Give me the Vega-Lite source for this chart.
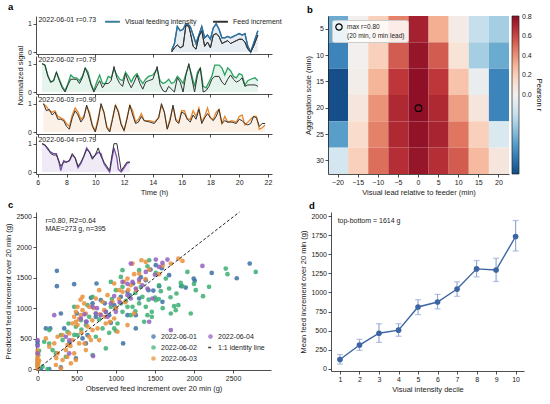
{
  "$schema": "https://vega.github.io/schema/vega-lite/v6.json",
  "background": "white",
  "padding": {"left": 4, "top": 1, "right": 1, "bottom": 1},
  "datasets": {
    "ts": [
      {"d":1,"t":15.3,"v":0.05,"f":0},{"d":1,"t":15.5,"v":0.3,"f":0.15},{"d":1,"t":15.7,"v":0.9,"f":0.25},{"d":1,"t":15.9,"v":0.75,"f":0.15},{"d":1,"t":16.1,"v":0.8,"f":0.2},{"d":1,"t":16.3,"v":1,"f":0.95},{"d":1,"t":16.5,"v":0.95,"f":0.9},{"d":1,"t":16.6,"v":0.9,"f":0.7},{"d":1,"t":16.8,"v":0.6,"f":0.2},{"d":1,"t":17.0,"v":0.3,"f":0.1},{"d":1,"t":17.2,"v":0.6,"f":0.55},{"d":1,"t":17.4,"v":0.9,"f":0.75},{"d":1,"t":17.6,"v":0.5,"f":0.2},{"d":1,"t":17.8,"v":0.6,"f":0.35},{"d":1,"t":18.0,"v":0.45,"f":0.15},{"d":1,"t":18.2,"v":0.85,"f":0.6},{"d":1,"t":18.4,"v":1,"f":0.65},{"d":1,"t":18.6,"v":0.8,"f":0.55},{"d":1,"t":18.8,"v":0.5,"f":0.3},{"d":1,"t":19.0,"v":0.5,"f":0.35},{"d":1,"t":19.2,"v":0.55,"f":0.4},{"d":1,"t":19.4,"v":0.5,"f":0.3},{"d":1,"t":19.6,"v":0.55,"f":0.35},{"d":1,"t":19.8,"v":0.6,"f":0.4},{"d":1,"t":20.0,"v":0.65,"f":0.45},{"d":1,"t":20.2,"v":0.6,"f":0.45},{"d":1,"t":20.4,"v":0.65,"f":0.35},{"d":1,"t":20.6,"v":0.2,"f":0.1},{"d":1,"t":20.8,"v":0,"f":0},{"d":1,"t":21.0,"v":0.3,"f":0.2},{"d":1,"t":21.3,"v":0.75,"f":0.6},
      {"d":2,"t":6.3,"v":1,"f":1},{"d":2,"t":6.5,"v":0.95,"f":0.95},{"d":2,"t":6.7,"v":0.6,"f":0.55},{"d":2,"t":6.9,"v":0.35,"f":0.35},{"d":2,"t":7.1,"v":0.4,"f":0.4},{"d":2,"t":7.3,"v":0.7,"f":0.7},{"d":2,"t":7.5,"v":0.45,"f":0.4},{"d":2,"t":7.7,"v":0.2,"f":0.15},{"d":2,"t":7.9,"v":0.05,"f":0},{"d":2,"t":8.1,"v":0.3,"f":0.25},{"d":2,"t":8.3,"v":0.6,"f":0.45},{"d":2,"t":8.5,"v":0.5,"f":0.45},{"d":2,"t":8.7,"v":0.5,"f":0.45},{"d":2,"t":8.9,"v":0.4,"f":0.3},{"d":2,"t":9.1,"v":0.55,"f":0.5},{"d":2,"t":9.3,"v":0.85,"f":0.85},{"d":2,"t":9.5,"v":0.7,"f":0.6},{"d":2,"t":9.7,"v":0.3,"f":0.25},{"d":2,"t":9.9,"v":0.05,"f":0},{"d":2,"t":10.1,"v":0.35,"f":0.2},{"d":2,"t":10.3,"v":0.6,"f":0.4},{"d":2,"t":10.5,"v":0.3,"f":0.15},{"d":2,"t":10.7,"v":0.3,"f":0.3},{"d":2,"t":10.9,"v":0.55,"f":0.3},{"d":2,"t":11.1,"v":0.5,"f":0.4},{"d":2,"t":11.3,"v":0.8,"f":0.9},{"d":2,"t":11.5,"v":0.6,"f":0.5},{"d":2,"t":11.7,"v":0.45,"f":0.3},{"d":2,"t":11.9,"v":0.4,"f":0.2},{"d":2,"t":12.1,"v":0.7,"f":0.65},{"d":2,"t":12.3,"v":0.55,"f":0.35},{"d":2,"t":12.5,"v":0.35,"f":0.15},{"d":2,"t":12.7,"v":0.55,"f":0.35},{"d":2,"t":12.9,"v":0.65,"f":0.6},{"d":2,"t":13.1,"v":0.45,"f":0.3},{"d":2,"t":13.3,"v":0.3,"f":0.1},{"d":2,"t":13.5,"v":0.45,"f":0.35},{"d":2,"t":13.7,"v":0.55,"f":0.4},{"d":2,"t":14.0,"v":0.6,"f":0.45},{"d":2,"t":14.3,"v":0.8,"f":0.9},{"d":2,"t":14.5,"v":0.4,"f":0.25},{"d":2,"t":14.7,"v":0.3,"f":0.05},{"d":2,"t":14.9,"v":0.35,"f":0},{"d":2,"t":15.1,"v":0.45,"f":0.2},{"d":2,"t":15.3,"v":0.3,"f":0.1},{"d":2,"t":15.5,"v":0.35,"f":0},{"d":2,"t":15.7,"v":0.55,"f":0.5},{"d":2,"t":15.9,"v":0.45,"f":0.35},{"d":2,"t":16.1,"v":0.3,"f":0},{"d":2,"t":16.3,"v":0.65,"f":0.6},{"d":2,"t":16.5,"v":0.95,"f":1},{"d":2,"t":16.7,"v":0.6,"f":0.5},{"d":2,"t":16.9,"v":0.2,"f":0},{"d":2,"t":17.1,"v":0.7,"f":0.6},{"d":2,"t":17.3,"v":0.85,"f":0.85},{"d":2,"t":17.5,"v":0.2,"f":0},{"d":2,"t":17.7,"v":0.15,"f":0.05},{"d":2,"t":17.9,"v":0.35,"f":0.2},{"d":2,"t":18.1,"v":0.55,"f":0.45},{"d":2,"t":18.3,"v":0.95,"f":0.55},{"d":2,"t":18.6,"v":0.95,"f":0.55},{"d":2,"t":18.8,"v":0.85,"f":0.35},{"d":2,"t":19.0,"v":0.6,"f":0.25},{"d":2,"t":19.2,"v":0.85,"f":0.45},{"d":2,"t":19.4,"v":0.75,"f":0.6},{"d":2,"t":19.6,"v":0.55,"f":0.45},{"d":2,"t":19.8,"v":0.5,"f":0.35},{"d":2,"t":20.0,"v":0.65,"f":0.4},{"d":2,"t":20.2,"v":0.6,"f":0.5},{"d":2,"t":20.4,"v":0.25,"f":0.2},{"d":2,"t":20.6,"v":0.4,"f":0.25},{"d":2,"t":20.8,"v":0.45,"f":0.25},{"d":2,"t":21.1,"v":0.5,"f":0.25},{"d":2,"t":21.3,"v":0.4,"f":0.2},
      {"d":3,"t":6.4,"v":1,"f":1},{"d":3,"t":6.6,"v":0.9,"f":0.75},{"d":3,"t":6.8,"v":0.75,"f":0.8},{"d":3,"t":7.0,"v":0.7,"f":0.6},{"d":3,"t":7.2,"v":0.75,"f":0.7},{"d":3,"t":7.4,"v":0.55,"f":0.45},{"d":3,"t":7.6,"v":0.5,"f":0.45},{"d":3,"t":7.8,"v":0.45,"f":0.4},{"d":3,"t":8.0,"v":0.3,"f":0.2},{"d":3,"t":8.2,"v":0.2,"f":0.1},{"d":3,"t":8.4,"v":0.6,"f":0.5},{"d":3,"t":8.6,"v":0.85,"f":0.75},{"d":3,"t":8.8,"v":0.7,"f":0.6},{"d":3,"t":9.0,"v":0.45,"f":0.35},{"d":3,"t":9.2,"v":0.55,"f":0.5},{"d":3,"t":9.4,"v":0.9,"f":0.95},{"d":3,"t":9.6,"v":0.7,"f":0.6},{"d":3,"t":9.8,"v":0.25,"f":0.2},{"d":3,"t":10.0,"v":0.05,"f":0},{"d":3,"t":10.2,"v":0.5,"f":0.4},{"d":3,"t":10.4,"v":0.95,"f":1},{"d":3,"t":10.6,"v":0.7,"f":0.7},{"d":3,"t":10.8,"v":0.2,"f":0.15},{"d":3,"t":11.0,"v":0.05,"f":0},{"d":3,"t":11.2,"v":0.5,"f":0.45},{"d":3,"t":11.4,"v":0.95,"f":0.95},{"d":3,"t":11.6,"v":0.75,"f":0.7},{"d":3,"t":11.8,"v":0.3,"f":0.25},{"d":3,"t":12.0,"v":0.05,"f":0.05},{"d":3,"t":12.2,"v":0.5,"f":0.45},{"d":3,"t":12.4,"v":0.95,"f":0.95},{"d":3,"t":12.6,"v":0.75,"f":0.6},{"d":3,"t":12.8,"v":0.35,"f":0.3},{"d":3,"t":13.0,"v":0.45,"f":0.35},{"d":3,"t":13.2,"v":0.65,"f":0.55},{"d":3,"t":13.4,"v":0.4,"f":0.4},{"d":3,"t":13.8,"v":0.4,"f":0.35},{"d":3,"t":14.1,"v":0.35,"f":0.3},{"d":3,"t":14.4,"v":0.5,"f":0.5},{"d":3,"t":14.6,"v":0.95,"f":1},{"d":3,"t":14.8,"v":0.7,"f":0.7},{"d":3,"t":15.0,"v":0.1,"f":0.1},{"d":3,"t":15.2,"v":0.5,"f":0.4},{"d":3,"t":15.4,"v":0.9,"f":0.95},{"d":3,"t":15.6,"v":0.45,"f":0.4},{"d":3,"t":15.8,"v":0.35,"f":0.3},{"d":3,"t":16.0,"v":0.75,"f":0.7},{"d":3,"t":16.2,"v":0.75,"f":0.65},{"d":3,"t":16.4,"v":0.45,"f":0.45},{"d":3,"t":16.6,"v":0.45,"f":0.35},{"d":3,"t":16.8,"v":0.75,"f":0.6},{"d":3,"t":17.0,"v":0.55,"f":0.45},{"d":3,"t":17.2,"v":0.85,"f":0.8},{"d":3,"t":17.4,"v":0.35,"f":0.3},{"d":3,"t":17.6,"v":0.55,"f":0.5},{"d":3,"t":17.8,"v":0.85,"f":0.65},{"d":3,"t":18.0,"v":0.5,"f":0.5},{"d":3,"t":18.2,"v":0.45,"f":0.4},{"d":3,"t":18.4,"v":0.7,"f":0.55},{"d":3,"t":18.6,"v":0.8,"f":0.8},{"d":3,"t":18.8,"v":0.3,"f":0.3},{"d":3,"t":19.0,"v":0.55,"f":0.4},{"d":3,"t":19.2,"v":0.35,"f":0.35},{"d":3,"t":19.5,"v":0.4,"f":0.35},{"d":3,"t":19.8,"v":0.35,"f":0.3},{"d":3,"t":20.0,"v":0.55,"f":0.45},{"d":3,"t":20.2,"v":0.6,"f":0.4},{"d":3,"t":20.4,"v":0.25,"f":0.3},{"d":3,"t":20.6,"v":0.35,"f":0.25},{"d":3,"t":20.8,"v":0.45,"f":0.3},{"d":3,"t":21.0,"v":0.55,"f":0.55},{"d":3,"t":21.2,"v":0.55,"f":0.5},{"d":3,"t":21.4,"v":0.1,"f":0.2},{"d":3,"t":21.6,"v":0.15,"f":0.3},{"d":3,"t":21.8,"v":0.25,"f":0.3},
      {"d":4,"t":6.3,"v":1,"f":1},{"d":4,"t":6.5,"v":0.95,"f":0.95},{"d":4,"t":6.7,"v":0.8,"f":0.85},{"d":4,"t":6.9,"v":0.7,"f":0.65},{"d":4,"t":7.1,"v":0.65,"f":0.6},{"d":4,"t":7.3,"v":0.65,"f":0.6},{"d":4,"t":7.5,"v":0.3,"f":0.35},{"d":4,"t":7.6,"v":0.05,"f":0.2},{"d":4,"t":7.8,"v":0.4,"f":0.35},{"d":4,"t":8.0,"v":0.35,"f":0.35},{"d":4,"t":8.2,"v":0.4,"f":0.4},{"d":4,"t":8.4,"v":0.6,"f":0.65},{"d":4,"t":8.6,"v":0.5,"f":0.5},{"d":4,"t":8.8,"v":0.15,"f":0.2},{"d":4,"t":9.0,"v":0.3,"f":0.35},{"d":4,"t":9.2,"v":0.55,"f":0.55},{"d":4,"t":9.4,"v":0.85,"f":0.8},{"d":4,"t":9.6,"v":0.7,"f":0.7},{"d":4,"t":9.8,"v":0.5,"f":0.45},{"d":4,"t":10.0,"v":0.6,"f":0.6},{"d":4,"t":10.2,"v":0.7,"f":0.85},{"d":4,"t":10.4,"v":0.65,"f":0.55},{"d":4,"t":10.6,"v":0.3,"f":0.35},{"d":4,"t":10.8,"v":0.15,"f":0.2},{"d":4,"t":11.0,"v":0,"f":0.05},{"d":4,"t":11.1,"v":0.3,"f":0.4},{"d":4,"t":11.3,"v":0.85,"f":1},{"d":4,"t":11.5,"v":0.5,"f":1},{"d":4,"t":11.6,"v":0.1,"f":0.7},{"d":4,"t":11.8,"v":0,"f":0.05},{"d":4,"t":12.0,"v":0.15,"f":0.2},{"d":4,"t":12.2,"v":0.3,"f":0.35},{"d":4,"t":12.4,"v":0.35,"f":0.35}
    ],
    "labels": [
      {"d":1,"label":"2022-06-01  r=0.73"},{"d":2,"label":"2022-06-02  r=0.79"},{"d":3,"label":"2022-06-03  r=0.90"},{"d":4,"label":"2022-06-04  r=0.79"}
    ],
    "heat": [
      {"lead":-20,"agg":5,"r":-0.45},{"lead":-15,"agg":5,"r":0.0},{"lead":-10,"agg":5,"r":0.2},{"lead":-5,"agg":5,"r":0.45},{"lead":0,"agg":5,"r":0.73},{"lead":5,"agg":5,"r":0.32},{"lead":10,"agg":5,"r":0.03},{"lead":15,"agg":5,"r":-0.2},{"lead":20,"agg":5,"r":-0.3},
      {"lead":-20,"agg":10,"r":-0.6},{"lead":-15,"agg":10,"r":0.0},{"lead":-10,"agg":10,"r":0.2},{"lead":-5,"agg":10,"r":0.55},{"lead":0,"agg":10,"r":0.78},{"lead":5,"agg":10,"r":0.55},{"lead":10,"agg":10,"r":0.1},{"lead":15,"agg":10,"r":-0.3},{"lead":20,"agg":10,"r":-0.45},
      {"lead":-20,"agg":15,"r":-0.8},{"lead":-15,"agg":15,"r":0.02},{"lead":-10,"agg":15,"r":0.3},{"lead":-5,"agg":15,"r":0.65},{"lead":0,"agg":15,"r":0.8},{"lead":5,"agg":15,"r":0.65},{"lead":10,"agg":15,"r":0.25},{"lead":15,"agg":15,"r":-0.04},{"lead":20,"agg":15,"r":-0.6},
      {"lead":-20,"agg":20,"r":-0.8},{"lead":-15,"agg":20,"r":0.08},{"lead":-10,"agg":20,"r":0.4},{"lead":-5,"agg":20,"r":0.7},{"lead":0,"agg":20,"r":0.8},{"lead":5,"agg":20,"r":0.7},{"lead":10,"agg":20,"r":0.37},{"lead":15,"agg":20,"r":0.08},{"lead":20,"agg":20,"r":-0.6},
      {"lead":-20,"agg":25,"r":-0.5},{"lead":-15,"agg":25,"r":0.15},{"lead":-10,"agg":25,"r":0.45},{"lead":-5,"agg":25,"r":0.7},{"lead":0,"agg":25,"r":0.79},{"lead":5,"agg":25,"r":0.72},{"lead":10,"agg":25,"r":0.48},{"lead":15,"agg":25,"r":0.2},{"lead":20,"agg":25,"r":-0.12},
      {"lead":-20,"agg":30,"r":-0.15},{"lead":-15,"agg":30,"r":0.2},{"lead":-10,"agg":30,"r":0.5},{"lead":-5,"agg":30,"r":0.68},{"lead":0,"agg":30,"r":0.78},{"lead":5,"agg":30,"r":0.68},{"lead":10,"agg":30,"r":0.55},{"lead":15,"agg":30,"r":0.28},{"lead":20,"agg":30,"r":0.08}
    ],
    "scat": [
      {"g":"2022-06-01","obs":247,"pred":1614},{"g":"2022-06-01","obs":247,"pred":1362},{"g":"2022-06-01","obs":468,"pred":1395},{"g":"2022-06-01","obs":754,"pred":1406},{"g":"2022-06-01","obs":1589,"pred":1657},{"g":"2022-06-01","obs":2713,"pred":1734},{"g":"2022-06-01","obs":2547,"pred":1493},{"g":"2022-06-01","obs":1997,"pred":1488},{"g":"2022-06-01","obs":2010,"pred":1450},{"g":"2022-06-01","obs":1895,"pred":1340},{"g":"2022-06-01","obs":2227,"pred":1581},{"g":"2022-06-01","obs":1836,"pred":1362},{"g":"2022-06-01","obs":0,"pred":450},{"g":"2022-06-01","obs":0,"pred":400},{"g":"2022-06-01","obs":106,"pred":667},{"g":"2022-06-01","obs":162,"pred":667},{"g":"2022-06-01","obs":341,"pred":667},{"g":"2022-06-01","obs":298,"pred":913},{"g":"2022-06-01","obs":405,"pred":421},{"g":"2022-06-01","obs":490,"pred":175},{"g":"2022-06-01","obs":298,"pred":27},{"g":"2022-06-01","obs":43,"pred":5},{"g":"2022-06-01","obs":149,"pred":0},{"g":"2022-06-01","obs":575,"pred":503},{"g":"2022-06-01","obs":618,"pred":421},{"g":"2022-06-01","obs":639,"pred":558},{"g":"2022-06-01","obs":682,"pred":1170},{"g":"2022-06-01","obs":703,"pred":1080},{"g":"2022-06-01","obs":809,"pred":1132},{"g":"2022-06-01","obs":916,"pred":886},{"g":"2022-06-01","obs":980,"pred":1050},{"g":"2022-06-01","obs":1065,"pred":1187},{"g":"2022-06-01","obs":1150,"pred":1269},{"g":"2022-06-01","obs":1222,"pred":1406},{"g":"2022-06-01","obs":1299,"pred":1160},{"g":"2022-06-01","obs":1384,"pred":1460},{"g":"2022-06-01","obs":1444,"pred":1636},{"g":"2022-06-01","obs":1512,"pred":1707},{"g":"2022-06-01","obs":1418,"pred":1296},{"g":"2022-06-01","obs":1256,"pred":886},{"g":"2022-06-01","obs":937,"pred":760},{"g":"2022-06-01","obs":1094,"pred":421},{"g":"2022-06-01","obs":1150,"pred":886},{"g":"2022-06-01","obs":1256,"pred":667},{"g":"2022-06-01","obs":745,"pred":859},{"g":"2022-06-01","obs":626,"pred":777},{"g":"2022-06-01","obs":503,"pred":913},{"g":"2022-06-01","obs":1554,"pred":1362},{"g":"2022-06-01","obs":1597,"pred":1105},{"g":"2022-06-01","obs":1682,"pred":1543},{"g":"2022-06-01","obs":1000,"pred":1000},{"g":"2022-06-01","obs":1180,"pred":1210},{"g":"2022-06-01","obs":860,"pred":1080},{"g":"2022-06-01","obs":1320,"pred":1510},{"g":"2022-06-01","obs":1480,"pred":1290},
      {"g":"2022-06-02","obs":0,"pred":148},{"g":"2022-06-02","obs":0,"pred":60},{"g":"2022-06-02","obs":0,"pred":100},{"g":"2022-06-02","obs":10,"pred":230},{"g":"2022-06-02","obs":20,"pred":300},{"g":"2022-06-02","obs":64,"pred":38},{"g":"2022-06-02","obs":128,"pred":0},{"g":"2022-06-02","obs":85,"pred":449},{"g":"2022-06-02","obs":149,"pred":420},{"g":"2022-06-02","obs":192,"pred":312},{"g":"2022-06-02","obs":320,"pred":476},{"g":"2022-06-02","obs":383,"pred":613},{"g":"2022-06-02","obs":490,"pred":695},{"g":"2022-06-02","obs":554,"pred":804},{"g":"2022-06-02","obs":618,"pred":722},{"g":"2022-06-02","obs":660,"pred":859},{"g":"2022-06-02","obs":745,"pred":913},{"g":"2022-06-02","obs":788,"pred":815},{"g":"2022-06-02","obs":873,"pred":941},{"g":"2022-06-02","obs":937,"pred":1023},{"g":"2022-06-02","obs":980,"pred":667},{"g":"2022-06-02","obs":1022,"pred":749},{"g":"2022-06-02","obs":1086,"pred":941},{"g":"2022-06-02","obs":1150,"pred":1023},{"g":"2022-06-02","obs":1192,"pred":886},{"g":"2022-06-02","obs":1214,"pred":1023},{"g":"2022-06-02","obs":1299,"pred":1078},{"g":"2022-06-02","obs":1341,"pred":1187},{"g":"2022-06-02","obs":1384,"pred":1023},{"g":"2022-06-02","obs":1405,"pred":886},{"g":"2022-06-02","obs":1461,"pred":859},{"g":"2022-06-02","obs":1503,"pred":1176},{"g":"2022-06-02","obs":1512,"pred":1132},{"g":"2022-06-02","obs":1554,"pred":1378},{"g":"2022-06-02","obs":1576,"pred":1280},{"g":"2022-06-02","obs":1640,"pred":1488},{"g":"2022-06-02","obs":1682,"pred":1324},{"g":"2022-06-02","obs":1746,"pred":1034},{"g":"2022-06-02","obs":1767,"pred":968},{"g":"2022-06-02","obs":1776,"pred":1242},{"g":"2022-06-02","obs":1831,"pred":1416},{"g":"2022-06-02","obs":1853,"pred":1362},{"g":"2022-06-02","obs":1916,"pred":1597},{"g":"2022-06-02","obs":2023,"pred":1296},{"g":"2022-06-02","obs":2116,"pred":1198},{"g":"2022-06-02","obs":2193,"pred":1351},{"g":"2022-06-02","obs":2406,"pred":1652},{"g":"2022-06-02","obs":2428,"pred":1559},{"g":"2022-06-02","obs":2790,"pred":1597},{"g":"2022-06-02","obs":1959,"pred":913},{"g":"2022-06-02","obs":1704,"pred":913},{"g":"2022-06-02","obs":1461,"pred":941},{"g":"2022-06-02","obs":1363,"pred":777},{"g":"2022-06-02","obs":1171,"pred":1187},{"g":"2022-06-02","obs":1086,"pred":1351},{"g":"2022-06-02","obs":1065,"pred":1515},{"g":"2022-06-02","obs":1086,"pred":1625},{"g":"2022-06-02","obs":1299,"pred":1625},{"g":"2022-06-02","obs":1405,"pred":1690},{"g":"2022-06-02","obs":1427,"pred":1789},{"g":"2022-06-02","obs":1512,"pred":1581},{"g":"2022-06-02","obs":873,"pred":339},{"g":"2022-06-02","obs":703,"pred":230},{"g":"2022-06-02","obs":362,"pred":202},{"g":"2022-06-02","obs":298,"pred":558},{"g":"2022-06-02","obs":149,"pred":640},{"g":"2022-06-02","obs":511,"pred":558},{"g":"2022-06-02","obs":745,"pred":531},{"g":"2022-06-02","obs":916,"pred":596},{"g":"2022-06-02","obs":1001,"pred":629},{"g":"2022-06-02","obs":831,"pred":667},{"g":"2022-06-02","obs":639,"pred":1050},{"g":"2022-06-02","obs":703,"pred":1187},{"g":"2022-06-02","obs":468,"pred":1023},{"g":"2022-06-02","obs":396,"pred":749},{"g":"2022-06-02","obs":234,"pred":260},{"g":"2022-06-02","obs":1065,"pred":1078},{"g":"2022-06-02","obs":1001,"pred":1296},{"g":"2022-06-02","obs":937,"pred":1433},{"g":"2022-06-02","obs":1130,"pred":1120},{"g":"2022-06-02","obs":1250,"pred":1250},{"g":"2022-06-02","obs":950,"pred":1150},{"g":"2022-06-02","obs":1600,"pred":1000},{"g":"2022-06-02","obs":1700,"pred":1180},{"g":"2022-06-02","obs":1800,"pred":1050},{"g":"2022-06-02","obs":2000,"pred":1400},{"g":"2022-06-02","obs":470,"pred":560},{"g":"2022-06-02","obs":560,"pred":650},{"g":"2022-06-02","obs":1250,"pred":950},{"g":"2022-06-02","obs":1420,"pred":1140},{"g":"2022-06-02","obs":1550,"pred":1150},{"g":"2022-06-02","obs":1320,"pred":1350},
      {"g":"2022-06-03","obs":0,"pred":250},{"g":"2022-06-03","obs":0,"pred":200},{"g":"2022-06-03","obs":0,"pred":160},{"g":"2022-06-03","obs":0,"pred":120},{"g":"2022-06-03","obs":0,"pred":80},{"g":"2022-06-03","obs":0,"pred":40},{"g":"2022-06-03","obs":10,"pred":100},{"g":"2022-06-03","obs":20,"pred":140},{"g":"2022-06-03","obs":149,"pred":367},{"g":"2022-06-03","obs":213,"pred":421},{"g":"2022-06-03","obs":256,"pred":257},{"g":"2022-06-03","obs":234,"pred":66},{"g":"2022-06-03","obs":298,"pred":11},{"g":"2022-06-03","obs":320,"pred":148},{"g":"2022-06-03","obs":362,"pred":312},{"g":"2022-06-03","obs":383,"pred":394},{"g":"2022-06-03","obs":447,"pred":476},{"g":"2022-06-03","obs":468,"pred":257},{"g":"2022-06-03","obs":490,"pred":148},{"g":"2022-06-03","obs":426,"pred":93},{"g":"2022-06-03","obs":511,"pred":722},{"g":"2022-06-03","obs":490,"pred":777},{"g":"2022-06-03","obs":468,"pred":859},{"g":"2022-06-03","obs":490,"pred":941},{"g":"2022-06-03","obs":511,"pred":1023},{"g":"2022-06-03","obs":575,"pred":968},{"g":"2022-06-03","obs":554,"pred":886},{"g":"2022-06-03","obs":618,"pred":913},{"g":"2022-06-03","obs":596,"pred":1078},{"g":"2022-06-03","obs":575,"pred":1187},{"g":"2022-06-03","obs":550,"pred":1140},{"g":"2022-06-03","obs":660,"pred":1023},{"g":"2022-06-03","obs":745,"pred":1160},{"g":"2022-06-03","obs":788,"pred":1296},{"g":"2022-06-03","obs":831,"pred":1105},{"g":"2022-06-03","obs":852,"pred":968},{"g":"2022-06-03","obs":895,"pred":1214},{"g":"2022-06-03","obs":958,"pred":1105},{"g":"2022-06-03","obs":980,"pred":1406},{"g":"2022-06-03","obs":1043,"pred":1296},{"g":"2022-06-03","obs":1086,"pred":1269},{"g":"2022-06-03","obs":1107,"pred":1433},{"g":"2022-06-03","obs":1150,"pred":1488},{"g":"2022-06-03","obs":1192,"pred":1378},{"g":"2022-06-03","obs":1235,"pred":1559},{"g":"2022-06-03","obs":1299,"pred":1570},{"g":"2022-06-03","obs":1329,"pred":1789},{"g":"2022-06-03","obs":1384,"pred":1761},{"g":"2022-06-03","obs":1427,"pred":1636},{"g":"2022-06-03","obs":1554,"pred":1559},{"g":"2022-06-03","obs":1704,"pred":1734},{"g":"2022-06-03","obs":1801,"pred":1816},{"g":"2022-06-03","obs":1853,"pred":1778},{"g":"2022-06-03","obs":532,"pred":421},{"g":"2022-06-03","obs":618,"pred":312},{"g":"2022-06-03","obs":682,"pred":476},{"g":"2022-06-03","obs":767,"pred":667},{"g":"2022-06-03","obs":873,"pred":749},{"g":"2022-06-03","obs":980,"pred":831},{"g":"2022-06-03","obs":1022,"pred":613},{"g":"2022-06-03","obs":1150,"pred":722},{"g":"2022-06-03","obs":1235,"pred":913},{"g":"2022-06-03","obs":703,"pred":640},{"g":"2022-06-03","obs":660,"pred":531},{"g":"2022-06-03","obs":788,"pred":476},{"g":"2022-06-03","obs":447,"pred":749},{"g":"2022-06-03","obs":405,"pred":585},{"g":"2022-06-03","obs":320,"pred":558},{"g":"2022-06-03","obs":256,"pred":531},{"g":"2022-06-03","obs":106,"pred":503},{"g":"2022-06-03","obs":1299,"pred":1433},{"g":"2022-06-03","obs":1214,"pred":1734},{"g":"2022-06-03","obs":926,"pred":777},{"g":"2022-06-03","obs":0,"pred":300},{"g":"2022-06-03","obs":0,"pred":10},{"g":"2022-06-03","obs":560,"pred":600},{"g":"2022-06-03","obs":640,"pred":700},{"g":"2022-06-03","obs":700,"pred":800},{"g":"2022-06-03","obs":720,"pred":1000},{"g":"2022-06-03","obs":800,"pred":900},{"g":"2022-06-03","obs":860,"pred":860},{"g":"2022-06-03","obs":1000,"pred":1000},{"g":"2022-06-03","obs":1040,"pred":1150},{"g":"2022-06-03","obs":1120,"pred":1100},{"g":"2022-06-03","obs":1160,"pred":1300},{"g":"2022-06-03","obs":1260,"pred":1300},{"g":"2022-06-03","obs":420,"pred":380},{"g":"2022-06-03","obs":380,"pred":200},{"g":"2022-06-03","obs":600,"pred":420},{"g":"2022-06-03","obs":240,"pred":180},{"g":"2022-06-03","obs":530,"pred":820},{"g":"2022-06-03","obs":1380,"pred":1480},{"g":"2022-06-03","obs":1600,"pred":1700},
      {"g":"2022-06-04","obs":0,"pred":476},{"g":"2022-06-04","obs":0,"pred":380},{"g":"2022-06-04","obs":0,"pred":257},{"g":"2022-06-04","obs":213,"pred":886},{"g":"2022-06-04","obs":362,"pred":531},{"g":"2022-06-04","obs":405,"pred":470},{"g":"2022-06-04","obs":554,"pred":831},{"g":"2022-06-04","obs":620,"pred":780},{"g":"2022-06-04","obs":703,"pred":1023},{"g":"2022-06-04","obs":745,"pred":913},{"g":"2022-06-04","obs":809,"pred":886},{"g":"2022-06-04","obs":873,"pred":941},{"g":"2022-06-04","obs":937,"pred":1078},{"g":"2022-06-04","obs":1001,"pred":941},{"g":"2022-06-04","obs":1150,"pred":1214},{"g":"2022-06-04","obs":1214,"pred":1433},{"g":"2022-06-04","obs":1299,"pred":1471},{"g":"2022-06-04","obs":1341,"pred":1378},{"g":"2022-06-04","obs":1405,"pred":1324},{"g":"2022-06-04","obs":1512,"pred":1800},{"g":"2022-06-04","obs":1554,"pred":1679},{"g":"2022-06-04","obs":1597,"pred":1745},{"g":"2022-06-04","obs":1661,"pred":1800},{"g":"2022-06-04","obs":1469,"pred":1160},{"g":"2022-06-04","obs":1427,"pred":777},{"g":"2022-06-04","obs":1704,"pred":640},{"g":"2022-06-04","obs":2108,"pred":1696},{"g":"2022-06-04","obs":711,"pred":213},{"g":"2022-06-04","obs":1086,"pred":1433},{"g":"2022-06-04","obs":1256,"pred":1324},{"g":"2022-06-04","obs":1192,"pred":1160},{"g":"2022-06-04","obs":895,"pred":859},{"g":"2022-06-04","obs":405,"pred":257},{"g":"2022-06-04","obs":1192,"pred":1734},{"g":"2022-06-04","obs":1384,"pred":1597},{"g":"2022-06-04","obs":1050,"pred":1100},{"g":"2022-06-04","obs":760,"pred":1000},{"g":"2022-06-04","obs":980,"pred":1200},{"g":"2022-06-04","obs":1500,"pred":1550},{"g":"2022-06-04","obs":1150,"pred":1400},{"g":"2022-06-04","obs":600,"pred":900}
    ],
    "dec": [
      {"dec":1,"m":120,"lo":60,"hi":185},{"dec":2,"m":310,"lo":240,"hi":385},{"dec":3,"m":465,"lo":345,"hi":590},{"dec":4,"m":505,"lo":425,"hi":590},{"dec":5,"m":810,"lo":710,"hi":905},{"dec":6,"m":875,"lo":785,"hi":975},{"dec":7,"m":1045,"lo":950,"hi":1140},{"dec":8,"m":1310,"lo":1205,"hi":1420},{"dec":9,"m":1295,"lo":1145,"hi":1450},{"dec":10,"m":1735,"lo":1545,"hi":1945}
    ]
  },
  "spacing": 4,
  "resolve": {"scale": {"color": "independent", "shape": "independent", "stroke": "independent", "strokeDash": "independent", "size": "independent"}, "legend": {"color": "independent", "shape": "independent", "stroke": "independent", "strokeDash": "independent", "size": "independent"}},
  "vconcat": [
    {
      "spacing": 22,
      "resolve": {"scale": {"color": "independent", "shape": "independent"}, "legend": {"color": "independent", "shape": "independent"}},
      "hconcat": [
        {
          "spacing": 2,
          "bounds": "flush",
          "resolve": {"scale": {"color": "independent", "x": "independent"}, "axis": {"x": "independent"}, "legend": {"color": "independent"}},
          "vconcat": [
            {
              "width": 236, "height": 38,
              "title": {"text": "a", "dx": -28},
              "layer": [
                {"data": {"name": "ts"}, "transform": [{"filter": "datum.d === 1"}], "mark": {"type": "area", "color": "#2f6f9f", "opacity": 0.12}, "encoding": {"x": {"field": "t", "type": "quantitative", "scale": {"domain": [5.88, 22.28], "nice": false, "zero": false}, "axis": {"values": [6, 8, 10, 12, 14, 16, 18, 20, 22], "labels": false, "title": null}}, "y": {"field": "v", "type": "quantitative", "scale": {"domain": [-0.07, 1.27], "nice": false, "zero": false}, "axis": {"values": [0, 1], "title": null}}, "y2": {"datum": 0}}},
                {"data": {"name": "ts"}, "transform": [{"filter": "datum.d === 1"}], "mark": {"type": "line", "strokeWidth": 1.3}, "encoding": {"x": {"field": "t", "type": "quantitative"}, "y": {"field": "v", "type": "quantitative", "title": null}, "color": {"datum": "Visual feeding intensity", "scale": {"domain": ["Visual feeding intensity", "Feed increment"], "range": ["#3a7f96", "#333333"]}, "legend": {"orient": "none", "legendX": 68, "legendY": -3, "direction": "horizontal", "title": null, "symbolType": "stroke", "symbolSize": 220, "symbolStrokeWidth": 2, "columnPadding": 12, "labelFontSize": 7}}}},
                {"data": {"name": "ts"}, "transform": [{"filter": "datum.d === 1"}], "mark": {"type": "line", "strokeWidth": 1}, "encoding": {"x": {"field": "t", "type": "quantitative"}, "y": {"field": "f", "type": "quantitative", "title": null}, "color": {"datum": "Feed increment"}}},
                {"data": {"name": "ts"}, "transform": [{"filter": "datum.d === 1"}], "mark": {"type": "line", "strokeWidth": 1.3, "color": "#2f6f9f"}, "encoding": {"x": {"field": "t", "type": "quantitative"}, "y": {"field": "v", "type": "quantitative", "title": null}}},
                {"data": {"name": "ts"}, "transform": [{"filter": "datum.d === 1"}], "mark": {"type": "line", "strokeWidth": 1, "color": "#333333"}, "encoding": {"x": {"field": "t", "type": "quantitative"}, "y": {"field": "f", "type": "quantitative", "title": null}}},
                {"data": {"name": "labels"}, "transform": [{"filter": "datum.d === 1"}], "mark": {"type": "text", "align": "left", "baseline": "middle", "fontSize": 7, "color": "#222222"}, "encoding": {"x": {"datum": 6.05}, "y": {"datum": 1.14}, "text": {"field": "label", "type": "nominal"}}}
              ]
            },
            {
              "width": 236, "height": 38,
              "layer": [
                {"data": {"name": "ts"}, "transform": [{"filter": "datum.d === 2"}], "mark": {"type": "area", "color": "#2ca25f", "opacity": 0.12}, "encoding": {"x": {"field": "t", "type": "quantitative", "scale": {"domain": [5.88, 22.28], "nice": false, "zero": false}, "axis": {"values": [6, 8, 10, 12, 14, 16, 18, 20, 22], "labels": false, "title": null}}, "y": {"field": "v", "type": "quantitative", "scale": {"domain": [-0.07, 1.27], "nice": false, "zero": false}, "axis": {"values": [0, 1], "title": "Normalized signal"}}, "y2": {"datum": 0}}},
                {"data": {"name": "ts"}, "transform": [{"filter": "datum.d === 2"}], "mark": {"type": "line", "strokeWidth": 1.3, "color": "#2ca25f"}, "encoding": {"x": {"field": "t", "type": "quantitative"}, "y": {"field": "v", "type": "quantitative", "title": "Normalized signal"}}},
                {"data": {"name": "ts"}, "transform": [{"filter": "datum.d === 2"}], "mark": {"type": "line", "strokeWidth": 1, "color": "#333333"}, "encoding": {"x": {"field": "t", "type": "quantitative"}, "y": {"field": "f", "type": "quantitative", "title": "Normalized signal"}}},
                {"data": {"name": "labels"}, "transform": [{"filter": "datum.d === 2"}], "mark": {"type": "text", "align": "left", "baseline": "middle", "fontSize": 7, "color": "#222222"}, "encoding": {"x": {"datum": 6.05}, "y": {"datum": 1.14}, "text": {"field": "label", "type": "nominal"}}}
              ]
            },
            {
              "width": 236, "height": 38,
              "layer": [
                {"data": {"name": "ts"}, "transform": [{"filter": "datum.d === 3"}], "mark": {"type": "area", "color": "#e8892f", "opacity": 0.12}, "encoding": {"x": {"field": "t", "type": "quantitative", "scale": {"domain": [5.88, 22.28], "nice": false, "zero": false}, "axis": {"values": [6, 8, 10, 12, 14, 16, 18, 20, 22], "labels": false, "title": null}}, "y": {"field": "v", "type": "quantitative", "scale": {"domain": [-0.07, 1.27], "nice": false, "zero": false}, "axis": {"values": [0, 1], "title": null}}, "y2": {"datum": 0}}},
                {"data": {"name": "ts"}, "transform": [{"filter": "datum.d === 3"}], "mark": {"type": "line", "strokeWidth": 1.3, "color": "#e8892f"}, "encoding": {"x": {"field": "t", "type": "quantitative"}, "y": {"field": "v", "type": "quantitative", "title": null}}},
                {"data": {"name": "ts"}, "transform": [{"filter": "datum.d === 3"}], "mark": {"type": "line", "strokeWidth": 1, "color": "#333333"}, "encoding": {"x": {"field": "t", "type": "quantitative"}, "y": {"field": "f", "type": "quantitative", "title": null}}},
                {"data": {"name": "labels"}, "transform": [{"filter": "datum.d === 3"}], "mark": {"type": "text", "align": "left", "baseline": "middle", "fontSize": 7, "color": "#222222"}, "encoding": {"x": {"datum": 6.05}, "y": {"datum": 1.14}, "text": {"field": "label", "type": "nominal"}}}
              ]
            },
            {
              "width": 236, "height": 38,
              "layer": [
                {"data": {"name": "ts"}, "transform": [{"filter": "datum.d === 4"}], "mark": {"type": "area", "color": "#7b4fb8", "opacity": 0.12}, "encoding": {"x": {"field": "t", "type": "quantitative", "scale": {"domain": [5.88, 22.28], "nice": false, "zero": false}, "axis": {"values": [6, 8, 10, 12, 14, 16, 18, 20, 22], "labelOverlap": false, "labelSeparation": -20, "labelFlush": false, "title": "Time (h)"}}, "y": {"field": "v", "type": "quantitative", "scale": {"domain": [-0.07, 1.27], "nice": false, "zero": false}, "axis": {"values": [0, 1], "title": null}}, "y2": {"datum": 0}}},
                {"data": {"name": "ts"}, "transform": [{"filter": "datum.d === 4"}], "mark": {"type": "line", "strokeWidth": 1.3, "color": "#7b4fb8"}, "encoding": {"x": {"field": "t", "type": "quantitative", "axis": {"values": [6, 8, 10, 12, 14, 16, 18, 20, 22], "labelOverlap": false, "labelSeparation": -20, "labelFlush": false, "title": "Time (h)"}}, "y": {"field": "v", "type": "quantitative", "title": null}}},
                {"data": {"name": "ts"}, "transform": [{"filter": "datum.d === 4"}], "mark": {"type": "line", "strokeWidth": 1, "color": "#333333"}, "encoding": {"x": {"field": "t", "type": "quantitative", "axis": {"values": [6, 8, 10, 12, 14, 16, 18, 20, 22], "labelOverlap": false, "labelSeparation": -20, "labelFlush": false, "title": "Time (h)"}}, "y": {"field": "f", "type": "quantitative", "title": null}}},
                {"data": {"name": "labels"}, "transform": [{"filter": "datum.d === 4"}], "mark": {"type": "text", "align": "left", "baseline": "middle", "fontSize": 7, "color": "#222222"}, "encoding": {"x": {"datum": 6.05, "type": "quantitative", "axis": {"values": [6, 8, 10, 12, 14, 16, 18, 20, 22], "labelOverlap": false, "labelSeparation": -20, "labelFlush": false, "title": "Time (h)"}}, "y": {"datum": 1.14}, "text": {"field": "label", "type": "nominal"}}}
              ]
            }
          ]
        },
        {
          "width": 181, "height": 158,
          "title": {"text": "b", "dx": -21},
          "layer": [
            {
              "data": {"name": "heat"},
              "mark": {"type": "rect"},
              "encoding": {
                "x": {"field": "lead", "type": "ordinal", "scale": {"domain": [-20, -15, -10, -5, 0, 5, 10, 15, 20], "paddingInner": 0, "paddingOuter": 0}, "axis": {"labelAngle": 0, "labelExpr": "replace(datum.label, '-', '−')", "title": "Visual lead relative to feeder (min)"}},
                "y": {"field": "agg", "type": "ordinal", "scale": {"domain": [5, 10, 15, 20, 25, 30], "paddingInner": 0, "paddingOuter": 0}, "axis": {"title": "Aggregation scale (min)"}},
                "color": {"field": "r", "type": "quantitative", "scale": {"scheme": "redblue", "reverse": true, "domain": [-0.81, 0.81]}, "legend": {"orient": "right", "title": "Pearson r", "titleOrient": "right", "titleAngle": 90, "titleAnchor": "middle", "titleFontSize": 7.5, "titleFontWeight": "normal", "titlePadding": 3, "gradientLength": 158, "gradientThickness": 7, "gradientStrokeColor": "#222", "gradientStrokeWidth": 0.7, "values": [0, 0.2, 0.4, 0.6, 0.8], "format": ".1f", "labelOverlap": false, "labelFontSize": 7, "labelOffset": 3, "offset": 3}}
              }
            },
            {
              "data": {"values": [{"lead": 0, "agg": 20, "k": "max"}]},
              "mark": {"type": "point", "filled": false, "stroke": "black", "strokeWidth": 1.2, "size": 45, "opacity": 1},
              "encoding": {
                "x": {"field": "lead", "type": "ordinal"},
                "y": {"field": "agg", "type": "ordinal"},
                "shape": {"field": "k", "type": "nominal", "scale": {"range": ["circle"]}, "legend": {"orient": "top-left", "offset": 4, "title": null, "labelExpr": "['max r=0.80', '(20 min, 0 min lead)']", "labelFontSize": 6.5, "symbolSize": 40, "symbolStrokeColor": "black", "symbolFillColor": "transparent", "symbolStrokeWidth": 1.2, "fillColor": "rgba(255,255,255,0.85)", "strokeColor": "#cccccc", "padding": 3, "cornerRadius": 2}}
              }
            }
          ]
        }
      ]
    },
    {
      "spacing": 28,
      "resolve": {"scale": {"color": "independent", "shape": "independent", "stroke": "independent", "strokeDash": "independent", "size": "independent"}, "legend": {"color": "independent", "shape": "independent", "stroke": "independent", "strokeDash": "independent", "size": "independent"}},
      "hconcat": [
        {
          "width": 235, "height": 158,
          "title": {"text": "c", "dx": -28},
          "layer": [
            {
              "data": {"name": "scat"},
              "mark": {"type": "point", "filled": true, "opacity": 0.85, "strokeWidth": 1},
              "encoding": {
                "x": {"field": "obs", "type": "quantitative", "scale": {"domain": [-20, 2985], "nice": false}, "axis": {"values": [0, 500, 1000, 1500, 2000, 2500], "format": "d", "labelOverlap": false, "title": "Observed feed increment over 20 min (g)"}},
                "y": {"field": "pred", "type": "quantitative", "scale": {"domain": [-16, 2582], "nice": false}, "axis": {"values": [0, 500, 1000, 1500, 2000, 2500], "format": "d", "labelOverlap": false, "title": "Predicted feed increment over 20 min (g)"}},
                "color": {"field": "g", "type": "nominal", "scale": {"domain": ["2022-06-01", "2022-06-02", "2022-06-03", "2022-06-04", "1:1 identity line"], "range": ["#3b72a6", "#3cb073", "#eb913b", "#9460c0", "#222222"]}, "legend": {"orient": "bottom-right", "offset": 6, "columns": 2, "title": null, "labelFontSize": 7, "rowPadding": 0, "columnPadding": 8, "symbolOpacity": 0.9}},
                "shape": {"field": "g", "type": "nominal", "scale": {"domain": ["2022-06-01", "2022-06-02", "2022-06-03", "2022-06-04", "1:1 identity line"], "range": ["circle", "circle", "circle", "circle", "stroke"]}, "legend": {"title": null}},
                "stroke": {"field": "g", "type": "nominal", "scale": {"domain": ["2022-06-01", "2022-06-02", "2022-06-03", "2022-06-04", "1:1 identity line"], "range": ["transparent", "transparent", "transparent", "transparent", "#222222"]}, "legend": {"title": null}},
                "strokeDash": {"field": "g", "type": "nominal", "scale": {"domain": ["2022-06-01", "2022-06-02", "2022-06-03", "2022-06-04", "1:1 identity line"], "range": [[1, 0], [1, 0], [1, 0], [1, 0], [3, 2]]}, "legend": {"title": null}},
                "size": {"field": "g", "type": "nominal", "scale": {"domain": ["2022-06-01", "2022-06-02", "2022-06-03", "2022-06-04", "1:1 identity line"], "range": [22, 22, 22, 22, 130]}, "legend": {"title": null}}
              }
            },
            {
              "data": {"values": [{}]},
              "mark": {"type": "rule", "strokeDash": [3, 2], "strokeWidth": 1, "color": "#222222"},
              "encoding": {"x": {"datum": 0, "type": "quantitative", "axis": {"values": [0, 500, 1000, 1500, 2000, 2500], "format": "d", "labelOverlap": false, "title": "Observed feed increment over 20 min (g)"}}, "y": {"datum": 0, "type": "quantitative", "axis": {"values": [0, 500, 1000, 1500, 2000, 2500], "format": "d", "labelOverlap": false, "title": "Predicted feed increment over 20 min (g)"}}, "x2": {"datum": 2582}, "y2": {"datum": 2582}}
            },
            {
              "data": {"values": [{"txt": "r=0.80, R2=0.64\nMAE=273 g, n=395"}]},
              "mark": {"type": "text", "align": "left", "baseline": "top", "lineBreak": "\n", "lineHeight": 8.5},
              "encoding": {"x": {"datum": 100, "type": "quantitative", "axis": {"values": [0, 500, 1000, 1500, 2000, 2500], "format": "d", "labelOverlap": false, "title": "Observed feed increment over 20 min (g)"}}, "y": {"datum": 2500, "type": "quantitative", "axis": {"values": [0, 500, 1000, 1500, 2000, 2500], "format": "d", "labelOverlap": false, "title": "Predicted feed increment over 20 min (g)"}}, "text": {"field": "txt"}}
            }
          ]
        },
        {
          "width": 193, "height": 159,
          "title": {"text": "d", "dx": -22},
          "layer": [
            {
              "data": {"name": "dec"},
              "mark": {"type": "errorbar", "ticks": {"size": 6}, "color": "#93aad3", "thickness": 1.2},
              "encoding": {
                "x": {"field": "dec", "type": "quantitative", "scale": {"domain": [0.54, 10.43], "nice": false}, "axis": {"values": [1, 2, 3, 4, 5, 6, 7, 8, 9, 10], "title": "Visual intensity decile"}},
                "y": {"field": "lo", "type": "quantitative", "scale": {"domain": [-31, 2057], "nice": false}, "axis": {"values": [0, 250, 500, 750, 1000, 1250, 1500, 1750, 2000], "format": "d", "labelOverlap": false, "title": "Mean feed increment over 20 min (g)"}},
                "y2": {"field": "hi"}
              }
            },
            {
              "data": {"name": "dec"},
              "mark": {"type": "line", "color": "#3d64a3", "strokeWidth": 1.4, "point": {"filled": true, "size": 32, "color": "#3d64a3", "opacity": 1}},
              "encoding": {"x": {"field": "dec", "type": "quantitative", "axis": {"values": [1, 2, 3, 4, 5, 6, 7, 8, 9, 10], "title": "Visual intensity decile"}}, "y": {"field": "m", "type": "quantitative", "axis": {"values": [0, 250, 500, 750, 1000, 1250, 1500, 1750, 2000], "format": "d", "labelOverlap": false, "title": "Mean feed increment over 20 min (g)"}}}
            },
            {
              "data": {"values": [{"txt": "top-bottom = 1614 g"}]},
              "mark": {"type": "text", "align": "left", "baseline": "middle"},
              "encoding": {"x": {"datum": 0.88, "type": "quantitative", "axis": {"values": [1, 2, 3, 4, 5, 6, 7, 8, 9, 10], "title": "Visual intensity decile"}}, "y": {"datum": 1940, "type": "quantitative", "axis": {"values": [0, 250, 500, 750, 1000, 1250, 1500, 1750, 2000], "format": "d", "labelOverlap": false, "title": "Mean feed increment over 20 min (g)"}}, "text": {"field": "txt"}}
            }
          ]
        }
      ]
    }
  ],
  "config": {
    "font": "Liberation Sans",
    "view": {"stroke": null},
    "axis": {"labelFontSize": 7, "titleFontSize": 7.5, "titleFontWeight": "normal", "labelColor": "#222", "titleColor": "#222", "domainColor": "#222", "tickColor": "#222", "domainWidth": 0.8, "tickWidth": 0.8, "tickSize": 3, "grid": false, "labelPadding": 1.5, "titlePadding": 3, "labelOverlap": false},
    "legend": {"labelFontSize": 7, "labelColor": "#222"},
    "title": {"fontSize": 9.5, "fontWeight": "bold", "anchor": "start", "frame": "group", "offset": 2, "color": "#000"},
    "text": {"fontSize": 7, "color": "#222"}
  }
}
